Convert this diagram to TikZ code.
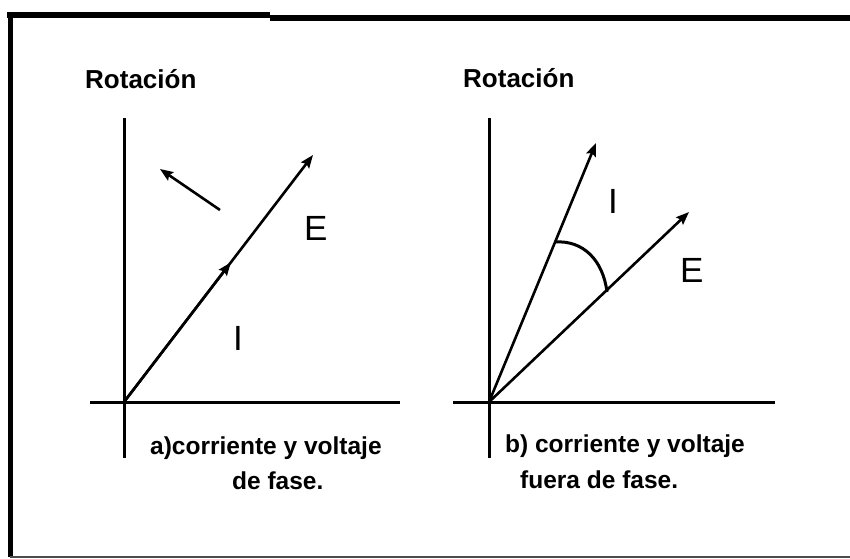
\documentclass[tikz,border=0pt]{standalone}
\usepackage{fontspec}
\setmainfont{Liberation Sans}
\usetikzlibrary{arrows.meta,calc}
\begin{document}
\begin{tikzpicture}[x=1pt,y=-1pt,
  frame/.style={line width=6pt,line cap=butt},
  axis/.style={line width=3pt},
  vec/.style={line width=2.6pt,-{Stealth[length=13pt,width=10pt,inset=2pt]}},
  title/.style={font=\fontsize{26}{30}\selectfont\bfseries,anchor=base west,inner sep=0},
  caption/.style={font=\fontsize{24.5}{29}\selectfont\bfseries,anchor=base west,inner sep=0},
  sym/.style={font=\fontsize{35}{40}\selectfont,inner sep=0}]
\useasboundingbox (0,0) rectangle (850,558);
% frame
\draw[frame] (7,15.3) -- (270,15.3);
\draw[frame] (270,17.5) -- (850,17.5);
\draw[line width=5pt] (10,12) -- (10,557);
\draw[line width=2pt,black!70] (10,556.5) -- (850,556.5);
% ---- left panel ----
\coordinate (oa) at (124,402);
\coordinate (ya) at (124,118);
\coordinate (yb) at (124,458);
\coordinate (xa) at (90,402);
\coordinate (xb) at (400,402);
\draw[axis] (ya) -- (yb);
\draw[axis] (xa) -- (xb);
\coordinate (Ea) at (313,155);
\coordinate (Ia) at ($(oa)!0.565!(Ea)$);
\draw[vec] (oa) -- (Ea);
\draw[vec] (oa) -- (Ia);
\coordinate (ra) at (220,210);
\coordinate (rb) at (160,169);
\draw[vec] (ra) -- (rb);
\node[sym,anchor=base west] (Elab) at (304,240) {E};
\node[sym,anchor=base] (Ilab) at (238,350) {I};
\node[title] (ta) at (85,88) {Rotación};
\node[caption] (ca1) at (150,454) {a)corriente y voltaje};
\node[caption] (ca2) at (232,489) {de fase.};
% ---- right panel ----
\coordinate (ob) at (489,402);
\coordinate (yc) at (489,118);
\coordinate (yd) at (489,458);
\coordinate (xc) at (453,402);
\coordinate (xd) at (775,402);
\draw[axis] (yc) -- (yd);
\draw[axis] (xc) -- (xd);
\coordinate (Ib) at (596,143);
\coordinate (Eb) at (689,212);
\draw[vec] (ob) -- (Ib);
\draw[vec] (ob) -- (Eb);
\coordinate (p1) at (555,242);
\coordinate (p2) at (607,292);
\draw[line width=3pt] (p1) .. controls (583,240) and (603,260) .. (p2);
\node[sym,anchor=base] (Ilab2) at (613,213) {I};
\node[sym,anchor=base west] (Elab2) at (680,282) {E};
\node[title] (tb) at (463,87) {Rotación};
\node[caption] (cb1) at (505,452) {b) corriente y voltaje};
\node[caption] (cb2) at (520,488) {fuera de fase.};
\end{tikzpicture}
\end{document}
